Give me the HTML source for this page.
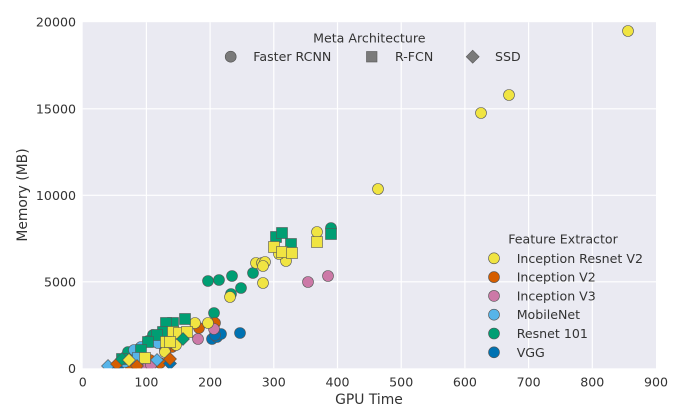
<!DOCTYPE html>
<html><head><meta charset="utf-8"><style>
html,body{margin:0;padding:0;background:#fff;}
svg{display:block;}
text{font-family:"DejaVu Sans","Liberation Sans",sans-serif;fill:#333;}
</style></head><body>
<svg width="690" height="408" viewBox="0 0 690 408" xmlns="http://www.w3.org/2000/svg">
<defs><clipPath id="c"><rect x="82.7" y="22.2" width="573.3" height="346.1"/></clipPath></defs>
<rect x="82.7" y="22.2" width="573.3" height="346.1" fill="#EAEAF2"/>
<g stroke="#fff" stroke-width="1.2">
<line x1="146.4" y1="22.2" x2="146.4" y2="368.3"/>
<line x1="210.1" y1="22.2" x2="210.1" y2="368.3"/>
<line x1="273.8" y1="22.2" x2="273.8" y2="368.3"/>
<line x1="337.5" y1="22.2" x2="337.5" y2="368.3"/>
<line x1="401.2" y1="22.2" x2="401.2" y2="368.3"/>
<line x1="464.9" y1="22.2" x2="464.9" y2="368.3"/>
<line x1="528.6" y1="22.2" x2="528.6" y2="368.3"/>
<line x1="592.3" y1="22.2" x2="592.3" y2="368.3"/>
<line x1="82.7" y1="281.8" x2="656" y2="281.8"/>
<line x1="82.7" y1="195.3" x2="656" y2="195.3"/>
<line x1="82.7" y1="108.8" x2="656" y2="108.8"/>
</g>
<g clip-path="url(#c)" stroke="#555" stroke-width="0.6">
<!-- circles -->
<g fill="#0072B2">
<circle cx="212" cy="339" r="5.5"/><circle cx="217" cy="337" r="5.5"/><circle cx="221" cy="334" r="5.5"/><circle cx="215" cy="335" r="5.5"/><circle cx="240" cy="333" r="5.5"/><circle cx="118" cy="367" r="5.5"/>
</g>
<g fill="#009E73">
<circle cx="208" cy="281" r="5.5"/><circle cx="219" cy="280" r="5.5"/><circle cx="232" cy="276" r="5.5"/><circle cx="241" cy="288" r="5.5"/><circle cx="231" cy="294" r="5.5"/><circle cx="253" cy="273" r="5.5"/><circle cx="214" cy="313" r="5.5"/><circle cx="153" cy="335" r="5.5"/><circle cx="157" cy="337" r="5.5"/><circle cx="148" cy="341" r="5.5"/><circle cx="140" cy="353" r="5.5"/><circle cx="331" cy="228" r="5.5"/><circle cx="128" cy="352" r="5.5"/>
</g>
<g fill="#D55E00">
<circle cx="199" cy="328" r="5.5"/><circle cx="215" cy="323" r="5.5"/><circle cx="131" cy="367" r="5.5"/><circle cx="137" cy="366" r="5.5"/><circle cx="160" cy="363" r="5.5"/><circle cx="150" cy="360" r="5.5"/><circle cx="172" cy="347" r="5.5"/>
</g>
<g fill="#CC79A7">
<circle cx="308" cy="282" r="5.5"/><circle cx="328" cy="276" r="5.5"/><circle cx="214" cy="329" r="5.5"/><circle cx="198" cy="339" r="5.5"/><circle cx="165" cy="350" r="5.5"/><circle cx="147" cy="368" r="5.5"/><circle cx="151" cy="365" r="5.5"/>
</g>
<g fill="#56B4E9">
<circle cx="141" cy="347" r="5.5"/><circle cx="158" cy="343" r="5.5"/><circle cx="125" cy="362" r="5.5"/><circle cx="134" cy="350" r="5.5"/>
</g>
<g fill="#F0E442">
<circle cx="628" cy="31" r="5.5"/><circle cx="509" cy="95" r="5.5"/><circle cx="481" cy="113" r="5.5"/><circle cx="378" cy="189" r="5.5"/><circle cx="317" cy="232" r="5.5"/><circle cx="286" cy="261" r="5.5"/><circle cx="279" cy="254" r="5.5"/><circle cx="256" cy="263" r="5.5"/><circle cx="262" cy="263" r="5.5"/><circle cx="265" cy="262" r="5.5"/><circle cx="263" cy="266" r="5.5"/><circle cx="263" cy="283" r="5.5"/><circle cx="230" cy="297" r="5.5"/><circle cx="195" cy="323" r="5.5"/><circle cx="208" cy="323" r="5.5"/><circle cx="176" cy="345" r="5.5"/><circle cx="165" cy="352" r="5.5"/>
</g>
<!-- squares -->
<g fill="#009E73">
<rect x="270.5" y="231.5" width="11" height="11"/><rect x="276.5" y="227.5" width="11" height="11"/><rect x="285.5" y="238.5" width="11" height="11"/><rect x="325.5" y="228.5" width="11" height="11"/><rect x="179.5" y="313.5" width="11" height="11"/><rect x="167.5" y="317.5" width="11" height="11"/><rect x="160.5" y="317.5" width="11" height="11"/><rect x="157.5" y="326.5" width="11" height="11"/><rect x="151.5" y="329.5" width="11" height="11"/><rect x="142.5" y="336.5" width="11" height="11"/><rect x="135.5" y="344.5" width="11" height="11"/><rect x="116.5" y="353.5" width="11" height="11"/>
</g>
<g fill="#56B4E9">
<rect x="132.5" y="352.5" width="11" height="11"/>
</g>
<g fill="#F0E442">
<rect x="268.5" y="241.5" width="11" height="11"/><rect x="276.5" y="246.5" width="11" height="11"/><rect x="286.5" y="247.5" width="11" height="11"/><rect x="311.5" y="236.5" width="11" height="11"/><rect x="167.5" y="326.5" width="11" height="11"/><rect x="173.5" y="327.5" width="11" height="11"/><rect x="181.5" y="326.5" width="11" height="11"/><rect x="160.5" y="336.5" width="11" height="11"/><rect x="164.5" y="336.5" width="11" height="11"/><rect x="139.5" y="352.5" width="11" height="11"/>
</g>
<!-- diamonds -->
<g>
<polygon fill="#0072B2" points="170,357 176.5,363.5 170,370 163.5,363.5"/>
<polygon fill="#56B4E9" points="108,359.5 114.5,366 108,372.5 101.5,366"/>
<polygon fill="#D55E00" points="117,357.5 123.5,364 117,370.5 110.5,364"/>
<polygon fill="#D55E00" points="137,359.5 143.5,366 137,372.5 130.5,366"/>
<polygon fill="#009E73" points="122,352.5 128.5,359 122,365.5 115.5,359"/>
<polygon fill="#F0E442" points="129,353.5 135.5,360 129,366.5 122.5,360"/>
<polygon fill="#56B4E9" points="157,353.5 163.5,360 157,366.5 150.5,360"/>
<polygon fill="#D55E00" points="170,352.5 176.5,359 170,365.5 163.5,359"/>
<polygon fill="#009E73" points="183,332.5 189.5,339 183,345.5 176.5,339"/>
</g>
</g>
<!-- tick labels -->
<g font-size="12.6" text-anchor="end">
<text x="76" y="26.5">20000</text>
<text x="76" y="113.3">15000</text>
<text x="76" y="199.8">10000</text>
<text x="76" y="286.3">5000</text>
<text x="76" y="372.8">0</text>
</g>
<g font-size="12.6" text-anchor="middle">
<text x="82.7" y="386.5">0</text>
<text x="146.4" y="386.5">100</text>
<text x="210.1" y="386.5">200</text>
<text x="273.8" y="386.5">300</text>
<text x="337.5" y="386.5">400</text>
<text x="401.2" y="386.5">500</text>
<text x="464.9" y="386.5">600</text>
<text x="528.6" y="386.5">700</text>
<text x="592.3" y="386.5">800</text>
<text x="656" y="386.5">900</text>
</g>
<text x="369" y="404" font-size="13.9" text-anchor="middle">GPU Time</text>
<text x="0" y="0" font-size="13.9" text-anchor="middle" transform="translate(27,195) rotate(-90)">Memory (MB)</text>
<!-- legend 1 -->
<text x="369.3" y="42.5" font-size="12.6" text-anchor="middle">Meta Architecture</text>
<g stroke="#555" stroke-width="0.6" fill="#7a7a7a">
<circle cx="230.7" cy="56.7" r="5.5"/>
<rect x="366.5" y="51.5" width="10.5" height="10.5"/>
<polygon points="472.7,50.2 479.2,56.7 472.7,63.2 466.2,56.7"/>
</g>
<g font-size="12.6">
<text x="253.3" y="61.2">Faster RCNN</text>
<text x="395" y="61.2">R-FCN</text>
<text x="495" y="61.2">SSD</text>
</g>
<!-- legend 2 -->
<text x="563" y="243.5" font-size="12.6" text-anchor="middle">Feature Extractor</text>
<g stroke="#555" stroke-width="0.6">
<circle cx="494" cy="258.3" r="5.5" fill="#F0E442"/>
<circle cx="494" cy="277.1" r="5.5" fill="#D55E00"/>
<circle cx="494" cy="295.9" r="5.5" fill="#CC79A7"/>
<circle cx="494" cy="314.7" r="5.5" fill="#56B4E9"/>
<circle cx="494" cy="333.5" r="5.5" fill="#009E73"/>
<circle cx="494" cy="352.3" r="5.5" fill="#0072B2"/>
</g>
<g font-size="12.6">
<text x="516.7" y="262.8">Inception Resnet V2</text>
<text x="516.7" y="281.6">Inception V2</text>
<text x="516.7" y="300.4">Inception V3</text>
<text x="516.7" y="319.2">MobileNet</text>
<text x="516.7" y="338">Resnet 101</text>
<text x="516.7" y="356.8">VGG</text>
</g>
</svg>
</body></html>
